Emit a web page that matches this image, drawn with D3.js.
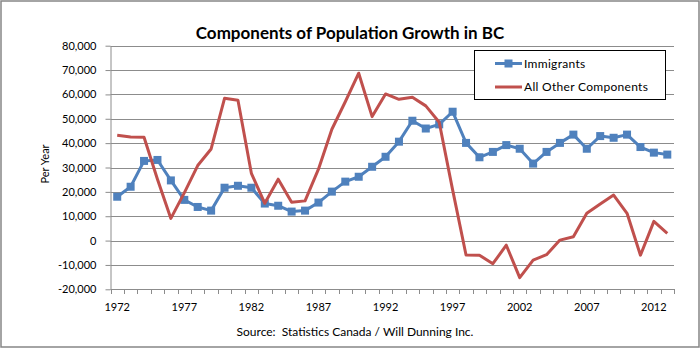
<!DOCTYPE html>
<html lang="en">
  <head>
    <meta charset="utf-8">
    <title>Components of Population Growth in BC</title>
    <script src="https://cdn.jsdelivr.net/npm/d3@7/dist/d3.min.js"></script>
    <style>
      body { margin: 0; background: #fff; }
      text { font-family: Lato, "Open Sans", sans-serif; }
    </style>
  </head>

  <body>
    <div id='main'></div>
  </body>

  <script type='text/javascript'>

      // years on the category axis
      const years = d3.range(1972, 2014);

      // annual flows, persons
      const immigrants = [18000,22100,32700,33100,24700,16700,13800,12300,21700,22500,
                          21700,15200,14300,11900,12300,15600,20100,24200,26200,30300,
                          34400,40600,49200,46000,47700,52900,40100,34200,36400,39200,
                          37700,31600,36400,40100,43500,37700,42900,42200,43500,38400,
                          36100,35300];
      const otherComponents = [43200,42500,42400,25200,9100,19600,30800,37600,58400,57600,
                               27600,15300,25200,15700,16300,29300,45700,57000,68700,50900,
                               60200,58000,58800,55300,48600,20800,-5900,-6000,-9500,-1900,
                               -15200,-8000,-5800,200,1600,11200,15000,18700,11200,-6000,
                               7900,3000];

      const yTicks = d3.range(-20000, 80001, 10000);
      const xLabelYears = years.filter(y => (y - 1972) % 5 == 0);

      const series = [
        {name: 'Immigrants', values: immigrants, color: '#4f81bd', marker: true},
        {name: 'All Other Components', values: otherComponents, color: '#c0504d', marker: false}
      ];

      const W = 700, H = 348;
      const plotLeft = 110.5, plotRight = 674, plotTop = 45.7, plotBottom = 289.3;

      let svg = d3.select('#main').append('svg')
        .attr('width', W)
        .attr('height', H);

      // outer chart border
      svg.append('rect')
        .attr('x', 1).attr('y', 1)
        .attr('width', W - 2).attr('height', H - 2)
        .attr('fill', '#fff')
        .attr('stroke', '#868686')
        .attr('stroke-width', 1.5);

      const x = d3.scaleBand().domain(years).range([plotLeft, plotRight]);
      const cx = d => x(d) + x.bandwidth() / 2;
      const y = d3.scaleLinear().domain([-20000, 80000]).range([plotBottom, plotTop]);

      // horizontal gridlines
      svg.append('g')
        .selectAll('line')
        .data(yTicks.filter(t => t > -20000))
        .enter().append('line')
        .attr('x1', plotLeft).attr('x2', plotRight)
        .attr('y1', d => Math.round(y(d)) + 0.5)
        .attr('y2', d => Math.round(y(d)) + 0.5)
        .attr('stroke', '#8c8c8c')
        .attr('stroke-width', 1);

      // y axis
      const fmt = d3.format(',');
      const yAxis = svg.append('g')
        .attr('transform', 'translate(' + plotLeft + ',0)')
        .call(d3.axisLeft(y).tickValues(yTicks).tickSize(5).tickSizeOuter(0)
          .tickFormat(d => fmt(d).replace('\u2212', '-')));
      yAxis.select('.domain').attr('stroke', '#8c8c8c');
      yAxis.selectAll('.tick line').attr('stroke', '#8c8c8c');
      yAxis.selectAll('.tick text')
        .attr('x', -14)
        .attr('font-size', '11px')
        .attr('fill', '#000')
        .style('font-family', 'Lato, sans-serif');

      // x axis line with ticks on category boundaries
      const xg = svg.append('g');
      xg.append('line')
        .attr('x1', plotLeft).attr('x2', plotRight)
        .attr('y1', Math.round(plotBottom) + 0.5).attr('y2', Math.round(plotBottom) + 0.5)
        .attr('stroke', '#8c8c8c');
      xg.selectAll('line.tick')
        .data(years.concat([null]))
        .enter().append('line')
        .attr('class', 'tick')
        .attr('x1', d => (d === null ? plotRight : Math.round(x(d))) + 0.5)
        .attr('x2', d => (d === null ? plotRight : Math.round(x(d))) + 0.5)
        .attr('y1', Math.round(plotBottom))
        .attr('y2', Math.round(plotBottom) + 5)
        .attr('stroke', '#8c8c8c');
      xg.selectAll('text')
        .data(xLabelYears)
        .enter().append('text')
        .attr('x', d => cx(d))
        .attr('y', 311)
        .attr('text-anchor', 'middle')
        .attr('font-size', '11px')
        .text(d => d);

      // series lines
      const line = d3.line()
        .x((d, i) => cx(years[i]))
        .y(d => y(d));

      series.forEach(s => {
        svg.append('path')
          .datum(s.values)
          .attr('d', line)
          .attr('fill', 'none')
          .attr('stroke', s.color)
          .attr('stroke-width', 3)
          .attr('stroke-linejoin', 'round');
        if (s.marker) {
          svg.append('g').selectAll('rect')
            .data(s.values)
            .enter().append('rect')
            .attr('x', (d, i) => cx(years[i]) - 4)
            .attr('y', d => y(d) - 4)
            .attr('width', 8).attr('height', 8)
            .attr('fill', s.color);
        }
      });

      // title
      svg.append('text')
        .attr('x', 350).attr('y', 39)
        .attr('text-anchor', 'middle')
        .attr('font-size', '17px')
        .attr('font-weight', 'bold')
        .text('Components of Population Growth in BC');

      // y axis title
      svg.append('text')
        .attr('transform', 'translate(49,164) rotate(-90)')
        .attr('text-anchor', 'middle')
        .attr('font-size', '11px')
        .text('Per Year');

      // source note
      svg.append('text')
        .attr('x', 355).attr('y', 336)
        .attr('text-anchor', 'middle')
        .attr('font-size', '12px')
        .attr('xml:space', 'preserve')
        .text('Source:  Statistics Canada / Will Dunning Inc.');

      // legend
      const lg = svg.append('g');
      lg.append('rect')
        .attr('x', 474.5).attr('y', 50.5)
        .attr('width', 191).attr('height', 49)
        .attr('fill', '#fff')
        .attr('stroke', '#000')
        .attr('stroke-width', 1);
      series.forEach((s, i) => {
        const ly = 63.5 + i * 23.5;
        lg.append('line')
          .attr('x1', 495).attr('x2', 522)
          .attr('y1', ly).attr('y2', ly)
          .attr('stroke', s.color)
          .attr('stroke-width', 3);
        if (s.marker) {
          lg.append('rect')
            .attr('x', 504.5).attr('y', ly - 4)
            .attr('width', 8).attr('height', 8)
            .attr('fill', s.color);
        }
        lg.append('text')
          .attr('x', 524).attr('y', ly + 4)
          .attr('font-size', '12px')
          .attr('letter-spacing', '0.3px')
          .text(s.name);
      });

  </script>
</html>
